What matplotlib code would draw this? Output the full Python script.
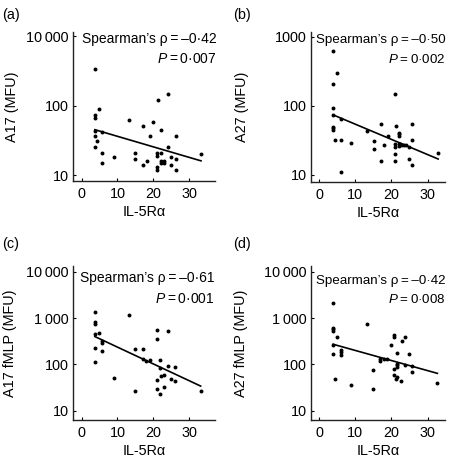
import matplotlib
matplotlib.use("Agg")
import matplotlib.pyplot as plt
from matplotlib.ticker import FixedLocator, FixedFormatter, NullLocator

plt.rcParams['font.family'] = ['Liberation Sans', 'DejaVu Sans']
plt.rcParams['mathtext.fontset'] = 'custom'
plt.rcParams['mathtext.it'] = 'Liberation Sans:italic'
plt.rcParams['mathtext.rm'] = 'Liberation Sans'

# ---------------- data ----------------
a_x = [3.7, 4.8, 3.7, 3.7, 3.7, 3.7, 4.2, 3.7, 5.8, 5.8, 5.8, 8.9, 13.3, 14.9, 14.9, 17.0, 18.1, 17.0,
       19.0, 20.0, 21.3, 24.0, 22.1, 21.0, 21.0, 22.1, 21.0, 21.0, 22.1, 23.0, 22.1, 23.0, 24.0, 25.0,
       26.2, 25.0, 26.2, 26.2, 33.3]
a_y = [335, 88, 73, 66, 43, 37, 31, 25, 41, 21, 15, 18, 63, 21, 17, 51, 16, 14,
       36, 58, 121, 146, 45, 21, 19, 21, 13, 12, 16, 16, 15, 15, 25, 18,
       17, 14, 12, 36, 20]
a_fit_x = [3.7, 33.3]
a_fit_y = [45, 16]

b_x = [3.9, 4.9, 3.9, 3.9, 3.9, 6.0, 3.9, 3.9, 3.9, 4.4, 6.0, 8.9, 6.0, 13.2, 15.1, 15.1, 17.0, 17.0,
       18.0, 19.0, 20.9, 21.2, 20.9, 20.9, 20.9, 20.9, 22.0, 22.0, 22.0, 22.0, 22.2, 22.4, 22.9, 23.4,
       24.0, 24.9, 24.9, 25.8, 25.8, 25.8, 32.9]
b_y = [621, 295, 204, 92, 74, 65, 50, 47, 44, 32, 32, 29, 11, 43, 31, 24, 55, 16,
       27, 36, 147, 51, 28, 25, 20, 16, 41, 39, 36, 28, 26, 28, 27, 27,
       27, 25, 17, 55, 32, 14, 21]
b_fit_x = [3.9, 32.9]
b_fit_y = [74, 17]

c_x = [3.7, 3.7, 3.7, 3.7, 4.8, 5.8, 5.8, 5.8, 3.7, 3.7, 8.9, 13.1, 14.9, 14.9, 17.0, 17.0, 18.0,
       19.0, 21.0, 21.0, 24.0, 21.9, 21.9, 21.0, 21.0, 21.9, 22.1, 22.9, 23.0, 24.0, 25.0, 26.1,
       26.1, 33.2]
c_y = [1330, 830, 750, 442, 480, 321, 295, 192, 230, 112, 50, 1140, 212, 27, 212, 128, 118,
       127, 548, 361, 530, 122, 85, 46, 29, 23, 57, 60, 33, 93, 49, 89,
       43, 26]
c_fit_x = [3.7, 33.2]
c_fit_y = [399, 34]

d_x = [3.9, 3.9, 3.9, 3.9, 4.9, 3.9, 3.9, 4.4, 6.0, 6.0, 6.0, 8.9, 13.2, 14.9, 14.9, 16.9, 16.9,
       17.9, 18.9, 19.8, 20.7, 20.7, 22.8, 23.8, 21.6, 24.8, 20.7, 20.7, 21.2, 21.6, 21.6, 21.6,
       21.6, 22.6, 23.8, 25.7, 25.7, 32.7]
d_y = [2080, 617, 567, 530, 386, 268, 171, 48, 201, 182, 159, 36, 753, 77, 29, 133, 118,
       128, 133, 268, 427, 386, 327, 386, 176, 171, 81, 60, 48, 100, 95, 88,
       53, 43, 95, 91, 67, 40]
d_fit_x = [3.9, 32.7]
d_fit_y = [272, 64]

x_ticks = [0, 10, 20, 30]
x_label = "IL-5R\u03b1"

panels = [
    dict(tag="(a)", x=a_x, y=a_y, fx=a_fit_x, fy=a_fit_y, ylabel="A17 (MFU)",
         yticks=[10, 100, 1000], ytl=["10", "100", "10\u2009000"], rho="\u20130\u00b742", p="0\u00b7007"),
    dict(tag="(b)", x=b_x, y=b_y, fx=b_fit_x, fy=b_fit_y, ylabel="A27 (MFU)",
         yticks=[10, 100, 1000], ytl=["10", "100", "1000"], rho="\u20130\u00b750", p="0\u00b7002"),
    dict(tag="(c)", x=c_x, y=c_y, fx=c_fit_x, fy=c_fit_y, ylabel="A17 fMLP (MFU)",
         yticks=[10, 100, 1000, 10000], ytl=["10", "100", "1\u2009000", "10\u2009000"], rho="\u20130\u00b761", p="0\u00b7001"),
    dict(tag="(d)", x=d_x, y=d_y, fx=d_fit_x, fy=d_fit_y, ylabel="A27 fMLP (MFU)",
         yticks=[10, 100, 1000, 10000], ytl=["10", "100", "1\u2009000", "10\u2009000"], rho="\u20130\u00b742", p="0\u00b7008"),
]

# ---------------- layout (pixels) ----------------
W = H = 458
boxes = [  # left, right, bottom, top
    (73, 215, 181, 32),
    (311, 445, 182, 32),
    (73, 215, 420, 266),
    (311, 445, 420, 266),
]
xlims = [(-2.4, 37.2), (-2.2, 34.8), (-2.4, 37.2), (-2.2, 34.8)]
ylims = [(8.2, 1150), (7.9, 1170), (6.3, 13300), (6.3, 13300)]
tag_pos = [(2, 15), (233, 15), (2, 244), (233, 244)]
txt_right = [217, 446, 215, 446]
txt_base = [(43, 63), (43, 63), (282, 303), (284, 303)]
txt_fs = [10, 9.6, 10, 9.6]
ylab_x = [12, 242, 10, 241]

fig = plt.figure(figsize=(W / 100, H / 100), dpi=100)
FS = 10.4

for i, p in enumerate(panels):
    l, r, b, t = boxes[i]
    ax = fig.add_axes([l / W, 1 - b / H, (r - l) / W, (b - t) / H])
    ax.set_yscale('log')
    ax.scatter(p["x"], p["y"], s=8, color='black', linewidths=0, zorder=3)
    ax.plot(p["fx"], p["fy"], color='black', lw=1.2, zorder=2)
    ax.set_xlim(*xlims[i])
    ax.set_ylim(*ylims[i])
    ax.xaxis.set_major_locator(FixedLocator(x_ticks))
    ax.yaxis.set_major_locator(FixedLocator(p["yticks"]))
    ax.yaxis.set_major_formatter(FixedFormatter(p["ytl"]))
    ax.yaxis.set_minor_locator(NullLocator())
    for s in ['top', 'right']:
        ax.spines[s].set_visible(False)
    for s in ['left', 'bottom']:
        ax.spines[s].set_linewidth(1.0)
        ax.spines[s].set_color('#222222')
    ax.tick_params(axis='both', direction='in', length=2.5, width=0.8, labelsize=FS)
    ax.tick_params(axis='x', pad=4)
    ax.tick_params(axis='y', pad=3)
    ax.set_xlabel(x_label, fontsize=FS, labelpad=3)
    ax.set_ylabel("")
    fig.text(ylab_x[i] / W, 1 - ((t + b) / 2) / H, p["ylabel"], rotation=90,
             ha='center', va='center', fontsize=FS)
    fig.text(tag_pos[i][0] / W, 1 - tag_pos[i][1] / H, p["tag"], ha='left', va='center', fontsize=FS)
    fig.text(txt_right[i] / W, 1 - txt_base[i][0] / H,
             "Spearman\u2019s \u03c1\u2009=\u2009" + p["rho"], ha='right', va='baseline', fontsize=txt_fs[i])
    fig.text(txt_right[i] / W, 1 - txt_base[i][1] / H,
             "$P$\u2009=\u2009" + p["p"], ha='right', va='baseline', fontsize=txt_fs[i])

fig.savefig("out.png", dpi=100)
